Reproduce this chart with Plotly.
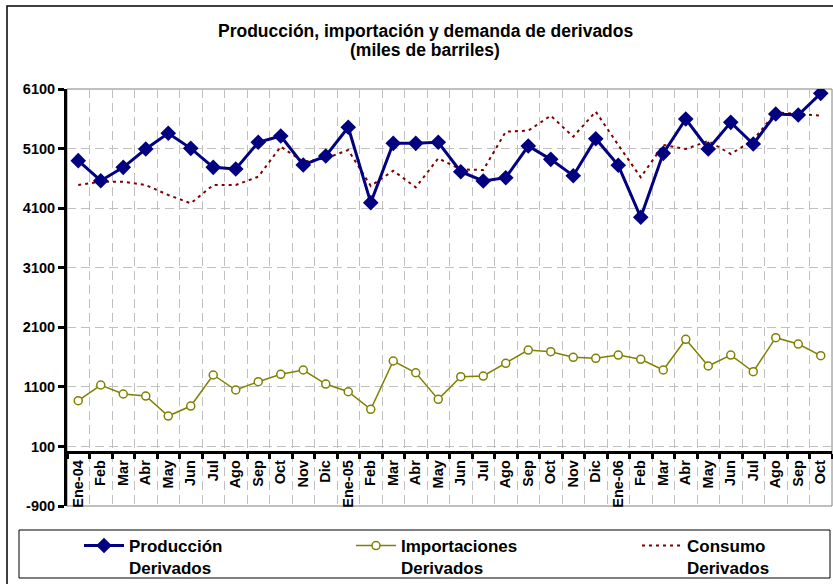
import plotly.graph_objects as go

# ---------------- data ----------------
categories = ["Ene-04", "Feb-04", "Mar-04", "Abr-04", "May-04", "Jun-04", "Jul-04", "Ago-04",
              "Sep-04", "Oct-04", "Nov-04", "Dic-04",
              "Ene-05", "Feb-05", "Mar-05", "Abr-05", "May-05", "Jun-05", "Jul-05", "Ago-05",
              "Sep-05", "Oct-05", "Nov-05", "Dic-05",
              "Ene-06", "Feb-06", "Mar-06", "Abr-06", "May-06", "Jun-06", "Jul-06", "Ago-06",
              "Sep-06", "Oct-06"]
tick_labels = ["Ene-04", "Feb", "Mar", "Abr", "May", "Jun", "Jul", "Ago", "Sep", "Oct", "Nov", "Dic",
               "Ene-05", "Feb", "Mar", "Abr", "May", "Jun", "Jul", "Ago", "Sep", "Oct", "Nov", "Dic",
               "Ene-06", "Feb", "Mar", "Abr", "May", "Jun", "Jul", "Ago", "Sep", "Oct"]

produccion = [4897, 4561, 4785, 5093, 5356, 5104, 4785, 4757, 5205, 5311, 4824, 4975,
              5457, 4192, 5188, 5188, 5205, 4712, 4556, 4611, 5143, 4919, 4645, 5266,
              4819, 3946, 5020, 5596, 5093, 5540, 5177, 5680, 5664, 6027]
importaciones = [868, 1131, 980, 946, 610, 778, 1299, 1047, 1186, 1310, 1383, 1147,
                 1018, 723, 1534, 1337, 890, 1270, 1282, 1495, 1718, 1690, 1596, 1579,
                 1634, 1562, 1383, 1898, 1450, 1634, 1354, 1925, 1819, 1623]
consumo = [4488, 4544, 4544, 4488, 4321, 4181, 4488, 4488, 4628, 5132, 4880, 4936,
           5076, 4472, 4729, 4449, 4936, 4751, 4740, 5384, 5401, 5652, 5300, 5720,
           5160, 4617, 5160, 5093, 5227, 5009, 5244, 5709, 5680, 5652]

y_ticks = [-900, 100, 1100, 2100, 3100, 4100, 5100, 6100]
y_min, y_max = -900, 6100

names = ["Producción<br>Derivados", "Importaciones<br>Derivados", "Consumo<br>Derivados"]

# ---------------- geometry ----------------
W, H = 833, 584
L, R, T, B = 67, 1, 89, 78
PW, PH = W - L - R, H - T - B

def px_x(px):
    return (px - L) / PW

def px_y(py):
    return (H - B - py) / PH

FONT = "Arial, 'Liberation Sans', sans-serif"

fig = go.Figure()

fig.add_trace(go.Scatter(
    x=categories, y=consumo, name=names[2], mode="lines",
    line=dict(color="#800000", width=2, dash="3px,4px"),
    legend="legend3",
))
fig.add_trace(go.Scatter(
    x=categories, y=importaciones, name=names[1], mode="lines+markers",
    line=dict(color="#808000", width=1.5),
    marker=dict(symbol="circle", size=8, color="white", line=dict(color="#808000", width=1.5)),
    legend="legend2",
))
fig.add_trace(go.Scatter(
    x=categories, y=produccion, name=names[0], mode="lines+markers",
    line=dict(color="#000080", width=3),
    marker=dict(symbol="diamond", size=12, color="#000080"),
    legend="legend",
))

grid_color = "#c0c0c0"
zero_pos = (0 - y_min) / (y_max - y_min)

fig.update_xaxes(
    type="category", categoryorder="array", categoryarray=categories,
    tickmode="array", tickvals=categories, ticktext=tick_labels,
    tickson="boundaries", tickangle=-90,
    anchor="free", position=zero_pos,
    showline=True, linecolor="black", linewidth=3,
    ticks="outside", ticklen=5, tickwidth=2.5, tickcolor="black",
    showgrid=True, gridcolor=grid_color, gridwidth=1, griddash="9px,5px",
    tickfont=dict(family=FONT, size=14.5, color="black", weight="bold"),
    range=[-0.5, len(categories) - 0.5],
    zeroline=False, fixedrange=True,
)
fig.update_yaxes(
    range=[y_min, y_max], tickmode="array", tickvals=y_ticks,
    ticktext=[str(v) for v in y_ticks],
    showline=True, linecolor="black", linewidth=3,
    ticks="outside", ticklen=6, tickwidth=2.5, tickcolor="black",
    showgrid=True, gridcolor=grid_color, gridwidth=1, griddash="9px,5px",
    zeroline=False, fixedrange=True,
    tickfont=dict(family=FONT, size=14.5, color="black", weight="bold"),
)

legend_common = dict(
    orientation="h", bgcolor="rgba(0,0,0,0)", borderwidth=0,
    font=dict(family=FONT, size=17, color="black", weight="bold"),
    valign="top", itemwidth=40, yanchor="top", xanchor="left",
    itemclick=False, itemdoubleclick=False,
)
fig.update_layout(
    legend=dict(x=px_x(79), y=px_y(528), **legend_common),
    legend2=dict(x=px_x(351), y=px_y(528), **legend_common),
    legend3=dict(x=px_x(637), y=px_y(528), **legend_common),
)

shapes = [
    # plot area border (grey)
    dict(type="rect", xref="x domain", yref="y domain", x0=0, x1=1, y0=0, y1=1,
         line=dict(color="#808080", width=1), layer="below"),
    # outer chart frame
    dict(type="rect", xref="paper", yref="paper", x0=px_x(7), x1=px_x(845),
         y0=px_y(6), y1=px_y(595), line=dict(color="black", width=1.5)),
    # legend box
    dict(type="rect", xref="paper", yref="paper", x0=px_x(19), x1=px_x(830),
         y0=px_y(530), y1=px_y(578), line=dict(color="black", width=1)),
]

annotations = [
    dict(text="Producción, importación y demanda de derivados", xref="paper", yref="paper",
         x=px_x(425), y=px_y(31), xanchor="center", yanchor="middle", showarrow=False,
         font=dict(family=FONT, size=17.5, color="black", weight="bold")),
    dict(text="(miles de barriles)", xref="paper", yref="paper",
         x=px_x(425), y=px_y(50), xanchor="center", yanchor="middle", showarrow=False,
         font=dict(family=FONT, size=17.5, color="black", weight="bold")),
]

fig.update_layout(
    width=W, height=H,
    margin=dict(l=L, r=R, t=T, b=B, autoexpand=False),
    paper_bgcolor="white", plot_bgcolor="white",
    shapes=shapes, annotations=annotations,
    showlegend=True, hovermode=False,
)

fig.write_html(
    "out.html",
    config={"displayModeBar": False, "staticPlot": False},
    post_script="document.body.style.margin='0';document.body.style.padding='0';"
                "document.documentElement.style.overflow='hidden';",
)
